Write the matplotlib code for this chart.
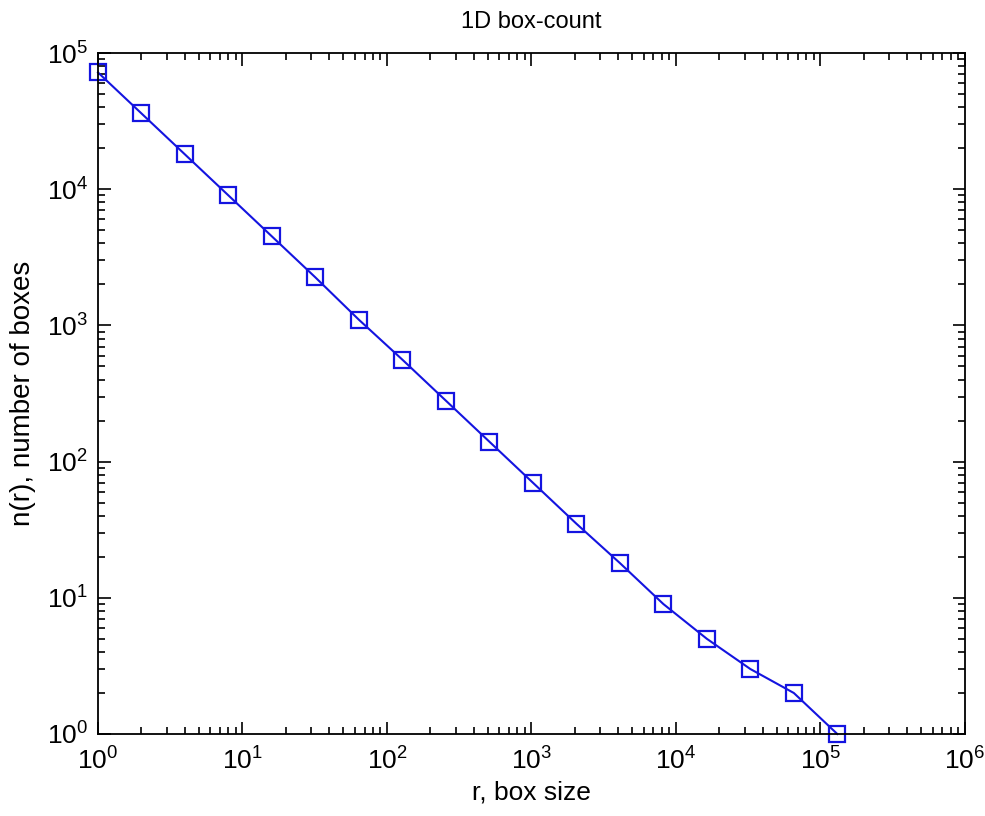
import matplotlib
matplotlib.use("Agg")
from matplotlib import pyplot as plt
from matplotlib.ticker import LogLocator, NullFormatter

plt.rcParams["font.family"] = ["Liberation Sans", "DejaVu Sans"]
plt.rcParams["mathtext.fontset"] = "custom"
plt.rcParams["mathtext.rm"] = "Liberation Sans"

# box size r and number of boxes n(r)
box_size: list[float] = [1, 2, 4, 8, 16, 32, 64, 128, 256, 512, 1024, 2048,
                         4096, 8192, 16384, 32768, 65536, 131072]
n_boxes: list[float] = [72000, 36000, 18000, 9000, 4500, 2250, 1100, 560, 280,
                        140, 70, 35, 18, 9, 5, 3, 2, 1]

fig = plt.figure(figsize=(9.85, 8.16), dpi=100)
ax = fig.add_axes([0.0995, 0.1005, 0.88, 0.8345])

color = "#1414e0"
ax.plot(box_size, n_boxes, color=color, lw=1.5, marker="s", markersize=12,
        markerfacecolor="none", markeredgecolor=color, markeredgewidth=1.6,
        clip_on=False)

ax.set_xscale("log")
ax.set_yscale("log")
ax.set_xlim(1, 1e6)
ax.set_ylim(1, 1e5)

for axis in (ax.xaxis, ax.yaxis):
    axis.set_major_locator(LogLocator(base=10, numticks=20))
    axis.set_minor_locator(LogLocator(base=10, subs=range(2, 10), numticks=20))
    axis.set_minor_formatter(NullFormatter())

ax.tick_params(which="both", direction="in", top=True, right=True,
               labelsize=19, width=1.2)
ax.tick_params(axis="x", which="major", length=9, pad=10)
ax.tick_params(axis="y", which="major", length=9, pad=7)
ax.tick_params(which="minor", length=5)
for s in ax.spines.values():
    s.set_linewidth(1.3)

ax.set_xlabel("r, box size", fontsize=19, labelpad=4)
ax.set_ylabel("n(r), number of boxes", fontsize=20, labelpad=8)
ax.set_title("1D box-count", fontsize=17, pad=18)

fig.savefig("out.png", dpi=100)
